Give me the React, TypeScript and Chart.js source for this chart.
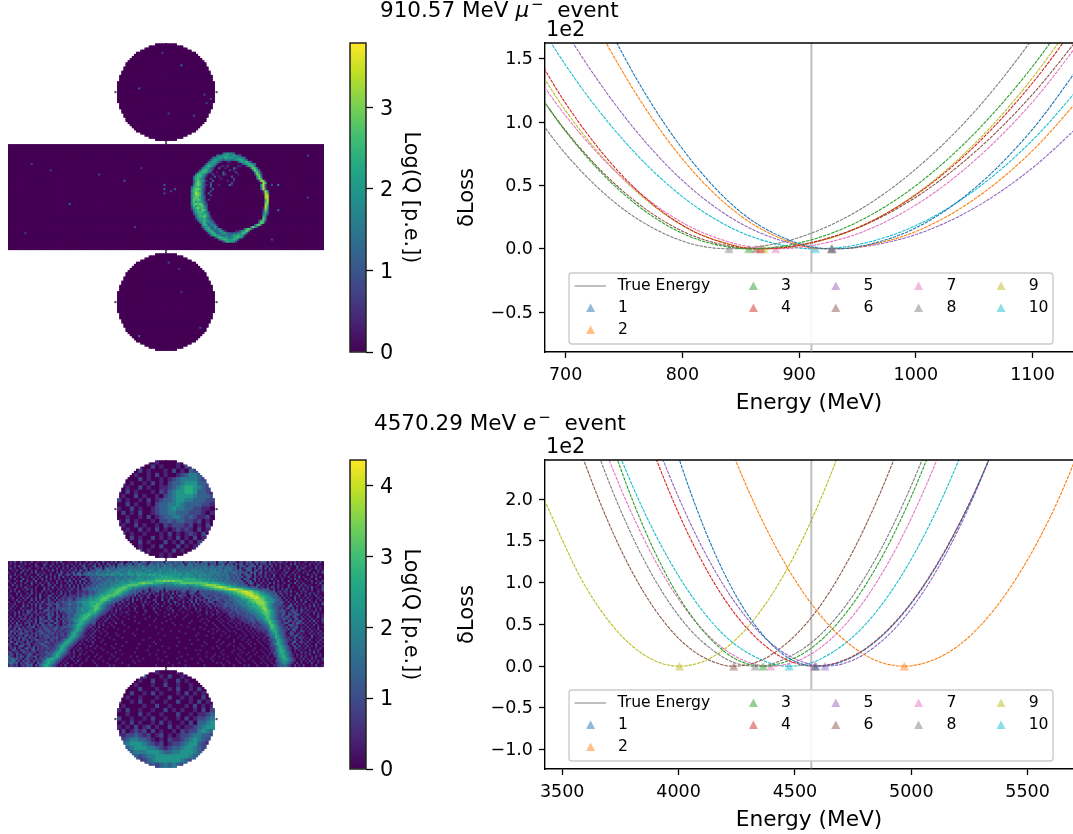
import React, { useEffect, useRef } from "react";
import { Chart, registerables } from "chart.js";

Chart.register(...registerables);

const FONT = "'DejaVu Sans'";
const seriesNames = ["1", "2", "3", "4", "5", "6", "7", "8", "9", "10"];
const seriesRgb = ["31,119,180", "255,127,14", "44,160,44", "214,39,40", "148,103,189", "140,86,75", "227,119,194", "127,127,127", "188,189,34", "23,190,207"];

// ---- muon event: loss curves (units of 1e2) ----
const muonTrueEnergy = 910.57;
const muonGrid = [650, 700, 750, 800, 850, 900, 950, 1000, 1050, 1100, 1150];
const muonBest = [928, 928, 857, 867, 928, 863, 880, 840, 870, 914];
const muonLoss1 = [3.72, 2.5, 1.52, 0.79, 0.29, 0.04, 0.015, 0.165, 0.475, 0.944, 1.57];
const muonLoss2 = [3.36, 2.26, 1.38, 0.71, 0.26, 0.03, 0.013, 0.136, 0.39, 0.775, 1.29];
const muonLoss3 = [1.61, 0.927, 0.43, 0.122, 0.002, 0.045, 0.211, 0.499, 0.909, 1.44, 2.09];
const muonLoss4 = [1.94, 1.149, 0.564, 0.185, 0.012, 0.026, 0.166, 0.426, 0.807, 1.31, 1.93];
const muonLoss5 = [2.55, 1.72, 1.05, 0.54, 0.2, 0.026, 0.01, 0.112, 0.321, 0.639, 1.06];
const muonLoss6 = [1.59, 0.933, 0.448, 0.139, 0.006, 0.03, 0.164, 0.407, 0.759, 1.22, 1.79];
const muonLoss7 = [1.71, 1.05, 0.548, 0.207, 0.029, 0.01, 0.118, 0.346, 0.694, 1.16, 1.75];
const muonLoss8 = [1.38, 0.749, 0.309, 0.061, 0.002, 0.089, 0.298, 0.63, 1.08, 1.66, 2.36];
const muonLoss9 = [1.83, 1.09, 0.544, 0.185, 0.015, 0.023, 0.163, 0.431, 0.826, 1.35, 2.0];
const muonLoss10 = [2.21, 1.45, 0.853, 0.412, 0.13, 0.006, 0.032, 0.183, 0.459, 0.858, 1.38];
const muonXTicks = [700, 800, 900, 1000, 1100];
const muonYTicks = [-0.5, 0, 0.5, 1, 1.5];

// ---- electron event: loss curves (units of 1e2) ----
const elecTrueEnergy = 4570.29;
const elecGrid = [3400, 3600, 3800, 4000, 4200, 4400, 4600, 4800, 5000, 5200, 5400, 5600, 5800];
const elecBest = [4590, 4970, 4363, 4585, 4629, 4237, 4396, 4329, 4004, 4475];
const elecLoss1 = [10.17, 7.04, 4.48, 2.5, 1.09, 0.259, 0.0, 0.197, 0.751, 1.66, 2.93, 4.56, 6.54];
const elecLoss2 = [11.5, 8.78, 6.41, 4.4, 2.78, 1.52, 0.641, 0.135, 0.004, 0.24, 0.839, 1.8, 3.13];
const elecLoss3 = [5.86, 3.68, 2.0, 0.833, 0.168, 0.007, 0.281, 0.955, 2.03, 3.5, 5.38, 7.7, 10.3];
const elecLoss4 = [7.5, 5.18, 3.29, 1.83, 0.791, 0.183, 0.001, 0.204, 0.76, 1.67, 2.93, 4.54, 6.51];
const elecLoss5 = [7.7, 5.4, 3.5, 2.02, 0.939, 0.267, 0.004, 0.146, 0.685, 1.62, 2.96, 4.7, 6.83];
const elecLoss6 = [4.15, 2.41, 1.13, 0.333, 0.008, 0.139, 0.689, 1.66, 3.04, 4.85, 7.07, 9.71, 12.8];
const elecLoss7 = [5.07, 3.24, 1.82, 0.801, 0.196, 0.0, 0.201, 0.79, 1.77, 3.13, 4.88, 7.02, 9.54];
const elecLoss8 = [4.82, 2.97, 1.56, 0.604, 0.093, 0.024, 0.352, 1.06, 2.16, 3.63, 5.49, 7.74, 10.4];
const elecLoss9 = [2.13, 0.953, 0.243, 0.0, 0.209, 0.852, 1.93, 3.44, 5.39, 7.77, 10.6, 13.8, 17.5];
const elecLoss10 = [5.51, 3.65, 2.17, 1.08, 0.361, 0.027, 0.072, 0.49, 1.28, 2.44, 3.97, 5.87, 8.15];
const elecXTicks = [3500, 4000, 4500, 5000, 5500];
const elecYTicks = [-1, -0.5, 0, 0.5, 1, 1.5, 2];

// ---- colour bars ----
const viridis = ["#440154", "#482475", "#414487", "#355f8d", "#2a788e", "#21918c", "#22a884", "#44bf70", "#7ad151", "#bddf26", "#fde725"];
const muonBarMax = 3.79;
const elecBarMax = 4.357;
const muonBarTicks = [0, 1, 2, 3];
const elecBarTicks = [0, 1, 2, 3, 4];

// ---- detector maps ----
const circleHalfWidths = [5, 8, 10, 12, 14, 15, 16, 17, 18, 19, 19, 20, 20, 21, 21, 22, 22, 22, 23, 23, 23, 23, 23];
const muonLevel = 0.42;
const elecLevel = 0.45;

// charge levels around the muon ring: rows start at barrel row 3, columns at barrel column 86
const muonRing = [
  "0000000000 0000000000 0000000000 000000000",
  "0000000000 0000003454 4300000000 000000000",
  "0000000000 0003445554 4543300000 000000000",
  "0000000000 0344554655 5445443000 000000000",
  "0000000000 3455443444 3455654300 000000000",
  "0000000003 4554310011 0002455643 000000000",
  "0000000035 5542000000 0000024565 430000000",
  "0000000356 5420011020 0001100256 630000000",
  "0000003555 3200300100 0310000003 764000000",
  "0000035664 3100000002 0100000000 475300000",
  "0000356653 2001003000 0020000000 057410000",
  "0004665420 0200003100 0001000000 027620000",
  "0035665310 0030100000 3000000000 005730000",
  "0046654200 2000010000 0200000000 003760000",
  "0035755310 0300000010 0100000000 000287100",
  "0036764200 2000000000 2000000000 000018600",
  "0046764210 3000100003 1000000000 000058200",
  "0356654200 2000000000 0000000000 000048200",
  "0467763200 0300000000 0000000000 000038300",
  "0567654100 2000000000 0000000000 000002850",
  "0468764103 0000000000 0000000000 000001860",
  "0567763200 2000000000 0000000000 000000880",
  "0467654300 0000000000 0000000000 000000880",
  "0476764202 0000000000 0000000000 000000680",
  "0565655310 0000000000 0000000000 000000680",
  "0467676320 0000000000 0000000000 000000770",
  "0365667430 0000000000 0000000000 000000860",
  "0256766530 0000000000 0000000000 000001850",
  "0145657640 0000000000 0000000000 000002740",
  "0035666542 0000000000 0000000000 000003630",
  "0024565653 0000000000 0000000000 000004520",
  "0003566754 1000000000 0000000000 000006400",
  "0002455643 2000000000 0000000000 000007400",
  "0000355654 3200000000 0000000000 000266200",
  "0000035644 4310000000 0000000000 000476000",
  "0000004653 4431000000 0000000000 036720000",
  "0000002455 3353000000 0000000003 753000000",
  "0000000356 4343520000 0000003675 100000000",
  "0000000035 6533453100 0011355740 000000000",
  "0000000003 5653345533 2334466300 000000000",
  "0000000000 3565533343 4556552000 000000000",
  "0000000000 0025665543 4566540000 000000000",
  "0000000000 0000356655 5653000000 000000000",
  "0000000000 0000002465 5420000000 000000000",
].map((s) => s.replace(/ /g, ""));
// isolated muon hits: [column, row, charge]
const muonBarrelHits = [[11, 9, 0.7], [20, 12, 0.7], [43, 14, 0.7], [55, 17, 1.0], [29, 28, 1.2], [74, 19, 1.0], [74, 23, 0.8], [74, 21, 1.2], [79, 21, 1.0], [77, 22, 0.8], [128, 19, 1.4], [125, 19, 0.8], [128, 31, 1.4], [142, 25, 0.7], [125, 45, 0.8], [142, 5, 0.7], [63, 11, 0.6], [8, 42, 0.7], [60, 39, 0.7]];
const muonTopHits = [[21, 4, 0.7], [30, 10, 1.2], [10, 21, 1.2], [41, 24, 0.7], [44, 26, 0.8], [36, 34, 0.8], [24, 33, 0.6], [42, 28, 0.7]];
const muonBottomHits = [[24, 4, 0.8], [29, 7, 0.6], [10, 39, 1.2], [39, 35, 0.8], [30, 18, 0.6]];

// electron barrel charge levels, one character per detector cell
const elecBarrel = [
  "0102003010 0200101020 0102030001 0020100201 1020030102 0301200203 2302321032 2323043223 3240323231 3024323230 3423032310 2203230231 2320302012 1020102010 0200102030",
  "0201001020 1002000310 0201002010 2010302012 0203010320 2023403240 3243230342 3424323423 3243034324 2332403230 3240323031 3203123030 2120310201 0100203010 1002010200",
  "1002030100 0102100200 3010201030 0201023010 2301203032 3042332434 2343423434 3423443432 3434243423 4334323423 3432423320 3230232302 3012030102 0020100301 0201002010",
  "0301002010 2000103020 0102002010 3020103203 0232303423 3243434343 4343544344 3443534434 3443434344 3434434343 4324343230 3023320203 2030201002 0103000201 2000103010",
  "0010200302 0102001002 0301020102 0120320302 3234323443 3434443544 4444344544 3454444545 4344443544 4443434443 3434343232 3202330230 2010302010 0201001030 0102000201",
  "2001003010 0203010200 1002031020 2303203243 2343343434 4454344554 4545454444 5454454545 4544454445 4444344444 4334323432 3232032302 3021020100 1030020100 2010020103",
  "0102010020 1000302010 2010320132 0323423343 4344444545 5445544555 4565555656 5565555555 5554555544 4545444434 4343423232 3023220302 1020103001 0200102010 0030102000",
  "0300102001 0201020030 1020203010 2010200213 2323243233 3434344344 4454545455 5556565655 5545555454 4544444343 4333432323 2302320210 2030102001 0102001030 1000201020",
  "0102000301 0020103010 2010200102 0201023012 3234323343 3443444454 4555545555 6666666666 6656666665 5555454444 3433432323 2032201302 0102030100 2000102010 0201003000",
  "2000103002 0103001020 1002010203 1020301202 3232333434 3444544555 5556566666 7777878787 7776666666 6655554544 4434333232 3202230201 0201001020 1003000201 0010200102",
  "0102001020 0301020103 0102010020 2010203021 2323334344 4445555566 6677877776 6666555556 6677777777 7777766666 5554443433 2320232010 2010302010 0200103010 2000102030",
  "0030102001 0200103002 1020020103 0102030212 3233434344 4555566777 7766655454 5444344445 4555545556 6677888887 7665554443 3323021023 0102001020 1003000102 0201000102",
  "2000201030 1002000201 0301020102 0302021232 3343344445 5566777665 5544343232 3343243333 4343443344 4455667788 9988776655 4443323230 2102031020 1002010030 1020301002",
  "0102000103 0201000302 0100201020 3012023233 3434444556 6677776553 4333232023 2323032323 2323332334 3334445566 6778899998 8766554433 2323102010 2030100010 3010200103",
  "0201030010 0201002010 2001020103 0102112123 2334445566 6777655433 3232023021 2302031020 2123202232 0322323233 4445566778 8999887665 4432323012 0210301002 0200100201",
  "1000201002 0301020010 0201030201 1012122123 2344555666 7776544332 3202120302 0102102030 2012102320 1232232223 2334455667 7889998776 5544332302 1020100301 0103020100",
  "0200102010 2001030102 3010201202 1212123234 3445666777 7655433221 2030102100 2103010201 0321200212 0123212232 2232344456 6778899887 6655433320 2010201020 0201003010",
  "1020010203 0102030012 0203012122 2123234345 4556677765 5433321202 0103002100 1002010320 1021010201 2102323123 2322233444 5667788998 7765543322 0201003010 1020100201",
  "0010201020 0302010203 1020212123 2123344455 5566777654 3332202103 0201010002 1003002010 0201002103 0212031223 2123233344 4555677888 8765554332 1020102003 0102001020",
  "2001030100 2010203102 1202123223 2334455556 6666765443 3220210102 0001020100 2000102003 1002010302 0102123201 2212322334 4445667788 8876554323 2102010201 0300102001",
  "0102000201 0203021022 2123212234 3234345556 6677654332 2012010200 1000201001 0200100201 0201001020 3010210212 1223232333 4445556678 8876543232 2010302010 2001020103",
  "1020100302 0102030102 2103212223 2324345556 6776543221 2010102001 0100200010 1002001000 1003001020 0101021021 2123223233 3444556667 7876543322 1202310201 0102030100",
  "0201002010 0201032013 0213223234 2334454555 6776543221 0102010100 2000100002 0100010200 0010201002 0100102010 1122123232 3334455566 7886543321 2023020102 0201001020",
  "2010010203 1202010232 1212132323 3234455456 6765432211 0201000100 1000020001 0010001020 0100010001 0200100102 0111212232 2333444556 6787654322 3210231203 1020102010",
  "0102030102 3012021203 1203021233 3234445566 6654322101 0100102000 0100010000 2000100010 0001000100 1000201001 1011122123 2223344455 6777654322 2302123102 0201030100",
  "1002010212 0201201023 1302102123 2344556676 5543221010 2001000100 0000100000 0100002000 1000010000 0100100201 0100121212 2223233445 5677654321 3203212320 1020010201",
  "0201021020 1201021203 2102203123 2344566765 4432101020 0100010000 1000000100 0000100001 0000100000 1000001000 1001012112 1223232344 5567654322 2132023102 0102000301",
  "1020102120 2012032103 2013021223 3445667654 3321010201 0010000100 0000010000 1000000100 0001000000 0010100001 0100101101 1212233234 4567654321 2321202301 2010201002",
  "0201020102 1203021231 2302103123 3455665543 3210102000 1000100000 1000000001 0000010000 0000000100 0100010000 1010011010 1121223223 3456765432 1203212132 0102030102",
  "1020301021 2012032102 1032102213 2345665432 3201010010 0200100000 0010000000 0001000010 0000001000 0001000100 0100100101 1011212212 3345765432 1231021321 2010102001",
  "0201212010 3021203212 3202102133 3456654321 2101020001 0000010000 0000000100 0000000001 0010000000 0000100010 0010010010 1010112121 2334676532 2102321201 0201020100",
  "1202120203 1230121321 2123122323 3456543212 0102000100 1000000100 0000000000 1000000000 0000010000 0100000001 0001001010 0101011212 2233576543 2130212301 1020100201",
  "2012032120 2102121232 1232122122 3456542110 2010010000 0010000000 0100000000 0001000000 0000000010 0001000100 1000100001 1001010112 1223566543 2213032102 0102010200",
  "0321212032 1201232123 2121221223 4565432101 0201001000 0000010000 0000100000 0000000100 0100000000 0000010001 0010010100 0100101011 1212456643 3210212012 2010201020",
  "1203023212 0212123212 2312122123 5654321010 2000100100 0100000001 0000000000 0100000000 0000100000 1000000100 0001000010 0010010101 0112345643 3201320120 1002010201",
  "2120212032 1203121232 1212122134 5654321102 0100001000 0010000000 1000000000 0000100000 0000000001 0000100000 0100010000 1001001010 1012344654 3210212302 0100301020",
  "0212031220 3121021223 1223112235 6543211010 2001000010 0000100000 0000000100 0000000000 1000000000 0000000100 0000100001 0010001001 0110234654 3212012031 2010200102",
  "1202120312 0213212120 3212123456 5432110201 0100010000 1000000000 0000100000 0010000000 0000001000 1000000000 1000000100 0100100010 0101223465 4321202102 0102001020",
  "0320212103 1201221232 1212224565 4321010010 2000100000 0000001000 0000000001 0000000000 0100000000 0001000001 0010000100 0001010001 0010123465 4321023012 1020100201",
  "2102301212 2012123212 1122345654 3210201000 1000001000 0100000000 0010000000 1000000000 0000000100 0000100000 0100010000 1000100100 1001123565 4320120201 0201002010",
  "1201023201 3021212231 2123456543 2101000102 0010000001 0000100000 0000000100 0001000000 1000000000 0010000001 0000100100 0100010000 0100122356 5432012030 1020102001",
  "0213021023 1230212123 1223465432 1010200100 0100100000 1000000000 0100000000 0000001000 0000100000 0000000100 1000000001 0010000100 0010112356 5432102201 0201001020",
  "1032103212 0231212121 2234565421 0102010001 0000010000 0001000000 0000001000 0100000000 0000000001 0100000000 0010000100 1000001000 1001021356 6532101020 1002010200",
  "2301210321 2121021232 2345654321 0200100100 1000000100 0100000000 1000000000 0000100000 0100000000 0000100000 0100001000 0100100010 0100112346 6543201002 0201030100",
  "1220312012 3201212123 3456543211 0100201000 0010000001 0000100000 0000000100 1000000000 0000010000 1000000010 0010000001 0001000100 0010102245 6543210201 0102001020",
  "3210213203 2123021232 3456532101 0201000010 0100100000 1000000010 0100000000 0000010000 0010000000 0000100100 1000100000 1000010001 0101001245 6643210102 0200102010",
  "2342312023 1202123245 6654321010 2000100100 0001000010 0010000000 0000100000 0100000000 1000000100 0100001000 0010000010 0100100000 1001010134 5654321010 2010201002",
  "3243120312 2031212456 5543210100 0102000100 1000010000 0100000001 0010000000 0001000000 0000100000 0010000100 0000100001 0010001000 0100100234 5554321002 0102010201",
  "2432302123 1210323456 5432101020 0010010000 0100000100 0000100000 1000000000 0000001000 0100000000 1000000001 0100010000 1000000100 1010010123 4543210201 0010200100",
  "1321201213 2302134565 4321010200 1000100000 0010000010 1000000100 0000000000 1000000010 0000100000 0001000000 0010000100 0010100010 0001001123 3432102010 2000102001",
].map((s) => s.replace(/ /g, ""));
// electron circle charge levels (each character covers 2x2 detector cells)
const elecTopCircle = [
  "00000001010000100000000",
  "00010100201000102100000",
  "00100201000102010321000",
  "00201001020100123443200",
  "01000201001012344443210",
  "02010010201023345553320",
  "00100201001123456654321",
  "10201000102134556653321",
  "01002010010234555543332",
  "20100102012334554433322",
  "00201001023344543333221",
  "10020100123345443322110",
  "02010200123344333222101",
  "00100102012334432321120",
  "10201000102232332212010",
  "01002010010212221201020",
  "00100201020101212102010",
  "02010010001020101210200",
  "00020100201010201020100",
  "00100201000201020102000",
  "00010100102000201010000",
  "00000201000102010000000",
  "00000010001010000000000",
];
const elecBottomCircle = [
  "00000100010000100000000",
  "00010020001020010000000",
  "00100100200100201000000",
  "00201000100200100100000",
  "01000200010010200102000",
  "10020010201000102010100",
  "00100100010020010100200",
  "20010200100100200102010",
  "01000010020010001020101",
  "10200100100201010010202",
  "00100201001000200101123",
  "20010010200100102012234",
  "01020100102010010203345",
  "10102012010020101123455",
  "02012120201001021224543",
  "11223212012010122344332",
  "12344332101021123454321",
  "23455543212012234553210",
  "12345554432123345543210",
  "01234445554334455543200",
  "00123234455555555432100",
  "00012123455555543210000",
  "00001012323434321000000",
];
const detectorStubs = [[75, 46.5], [75, 47.5], [75, 98.5], [75, 99.5], [51, 23], [99, 23], [51, 123], [99, 123], [75, -0.1], [75, 146.1]];

// ---- helpers ----
const viridisAt = (t: number) => {
  const p = Math.max(0, Math.min(1, t)) * (viridis.length - 1);
  const i = Math.min(viridis.length - 2, Math.floor(p));
  const f = p - i;
  const rgb = (h: string) => [1, 3, 5].map((k) => parseInt(h.slice(k, k + 2), 16));
  const a = rgb(viridis[i]);
  const b = rgb(viridis[i + 1]);
  return `rgb(${a.map((v, k) => Math.round(v + (b[k] - v) * f)).join(",")})`;
};

const half = (r: number) => circleHalfWidths[r < 23 ? r : 45 - r];

function detectorPoints(top: (c: number, r: number) => number, barrel: (c: number, r: number) => number, bottom: (c: number, r: number) => number) {
  const pts: { x: number; y: number; v: number }[] = [];
  for (let r = 0; r < 46; r++) {
    const h = half(r);
    for (let c = 23 - h; c < 23 + h; c++) {
      pts.push({ x: 52 + c + 0.5, y: r + 0.5, v: top(c, r) });
      pts.push({ x: 52 + c + 0.5, y: 100 + r + 0.5, v: bottom(c, r) });
    }
  }
  for (let r = 0; r < 50; r++) for (let c = 0; c < 150; c++) pts.push({ x: c + 0.5, y: 48 + r + 0.5, v: barrel(c, r) });
  return pts;
}

const hitLookup = (hits: number[][]) => {
  const m = new Map<string, number>();
  hits.forEach(([c, r, v]) => m.set(`${c},${r}`, v));
  return (c: number, r: number) => m.get(`${c},${r}`) || 0;
};

const muonPoints = () => {
  const barrelHit = hitLookup(muonBarrelHits);
  return detectorPoints(hitLookup(muonTopHits), (c, r) => {
    const ch = muonRing[r - 3]?.[c - 86];
    return ch ? Number(ch) * muonLevel || barrelHit(c, r) : barrelHit(c, r);
  }, hitLookup(muonBottomHits));
};

const coarse = (rows: string[]) => (c: number, r: number) => Number(rows[r >> 1]?.[c >> 1] || 0) * elecLevel;
const fine = (rows: string[]) => (c: number, r: number) => Number(rows[r]?.[c] || 0) * elecLevel;
const elecPoints = () => detectorPoints(coarse(elecTopCircle), fine(elecBarrel), coarse(elecBottomCircle));

function curve(grid: number[], loss: number[], best: number) {
  return [...grid.map((x, i) => ({ x, y: loss[i] })), { x: best, y: 0 }].sort((a, b) => a.x - b.x);
}

const triangleImage = (rgb: string) => {
  const c = document.createElement("canvas");
  c.width = 11;
  c.height = 11;
  const g = c.getContext("2d")!;
  g.fillStyle = `rgba(${rgb},0.5)`;
  g.beginPath();
  g.moveTo(5.5, 1.2);
  g.lineTo(10, 9.8);
  g.lineTo(1, 9.8);
  g.closePath();
  g.fill();
  return c;
};

// matplotlib sets vertical-axis labels a little lower than Chart.js does
const nudgeYLabels = (dy: number) => ({
  id: "nudgeYLabels",
  beforeDraw(chart: any) {
    chart.scales.y.getLabelItems(chart.chartArea).forEach((item: any) => { item.options.translation[1] += dy; });
  },
});

interface PanelProps {
  grid: number[]; losses: number[][]; best: number[]; trueEnergy: number;
  xMin: number; xMax: number; yMin: number; yMax: number;
  xTicks: number[]; yTicks: number[]; top: number; height: number; areaTop: number; xHeight: number; titlePad: number;
}

const LossPanel = (p: PanelProps) => {
  const ref = useRef<HTMLCanvasElement>(null);
  useEffect(() => {
    const tick = { size: 17.5, family: FONT };
    const spinePlugin = {
      id: "spineAndLegend",
      afterDraw(chart: any) {
        const { ctx, chartArea: a } = chart;
        ctx.save();
        ctx.strokeStyle = "#000";
        ctx.lineWidth = 1.4;
        ctx.beginPath();
        ctx.moveTo(a.left, a.top);
        ctx.lineTo(a.right, a.top);
        ctx.stroke();
        // legend box, columns filled top to bottom
        const left = 569 - 450;
        const right = 1053 - 450;
        const t = a.bottom - 79;
        const h = 71;
        ctx.fillStyle = "rgba(255,255,255,0.9)";
        ctx.strokeStyle = "#cccccc";
        ctx.lineWidth = 1.4;
        ctx.beginPath();
        ctx.roundRect(left, t, right - left, h, 3);
        ctx.fill();
        ctx.stroke();
        const rows = [t + 13, t + 35, t + 57];
        ctx.font = `15.6px ${FONT}`;
        ctx.textBaseline = "middle";
        ctx.fillStyle = "#000";
        ctx.fillText("True Energy", 617.5 - 450, rows[0]);
        ctx.strokeStyle = "rgba(127,127,127,0.5)";
        ctx.lineWidth = 2;
        ctx.beginPath();
        ctx.moveTo(574.5 - 450, rows[0]);
        ctx.lineTo(606 - 450, rows[0]);
        ctx.stroke();
        const cols: [number, number, number, number][] = [
          [590.6, 618, 0, 2], [753.4, 781, 2, 4], [835.8, 863.5, 4, 6], [918.6, 946.6, 6, 8], [1001, 1028.7, 8, 10],
        ];
        cols.forEach(([mx, tx, from, to], ci) => {
          for (let i = from; i < to; i++) {
            const y = rows[i - from + (ci === 0 ? 1 : 0)];
            ctx.fillStyle = `rgba(${seriesRgb[i]},0.5)`;
            ctx.beginPath();
            ctx.moveTo(mx - 450, y - 4.5);
            ctx.lineTo(mx - 450 + 4.5, y + 4.1);
            ctx.lineTo(mx - 450 - 4.5, y + 4.1);
            ctx.closePath();
            ctx.fill();
            ctx.fillStyle = "#000";
            ctx.fillText(seriesNames[i], tx - 450, y);
          }
        });
        ctx.restore();
      },
    };
    const chart = new Chart(ref.current!, {
      type: "scatter",
      data: {
        datasets: [
          { label: "True Energy", data: [{ x: p.trueEnergy, y: p.yMin }, { x: p.trueEnergy, y: p.yMax }], showLine: true, borderColor: "rgba(127,127,127,0.5)", borderWidth: 2, pointRadius: 0 },
          ...p.losses.map((loss, i) => ({
            label: `curve ${seriesNames[i]}`,
            data: curve(p.grid, loss, p.best[i]),
            showLine: true, borderColor: `rgb(${seriesRgb[i]})`, borderWidth: 1.1, borderDash: [3.4, 1], pointRadius: 0, cubicInterpolationMode: "monotone" as const,
          })),
          ...p.best.map((b, i) => ({
            label: seriesNames[i],
            data: [{ x: b, y: 0 }],
            pointStyle: triangleImage(seriesRgb[i]), pointRadius: 5.5, pointBorderWidth: 0, borderWidth: 0,
          })),
        ],
      } as any,
      options: {
        animation: false, responsive: false, maintainAspectRatio: false,
        layout: { autoPadding: false, padding: { top: p.areaTop, left: 0, right: 0, bottom: 0 } },
        plugins: { legend: { display: false }, tooltip: { enabled: false } },
        scales: {
          x: {
            type: "linear", bounds: "data", min: p.xMin, max: p.xMax,
            afterFit: (s: any) => { s.height = p.xHeight; },
            afterBuildTicks: (s: any) => { s.ticks = p.xTicks.map((value) => ({ value })); s.min = p.xMin; s.max = p.xMax; },
            border: { color: "#000", width: 1.4 },
            grid: { drawOnChartArea: false, drawTicks: true, tickLength: 6, tickColor: "#000", tickWidth: 1.3 },
            ticks: { color: "#000", font: tick, padding: 7, maxRotation: 0, autoSkip: false, callback: (v: any) => String(v) },
            title: { display: true, text: "Energy (MeV)", color: "#000", font: { size: 21.7, family: FONT }, padding: { top: 0, bottom: p.titlePad } },
          },
          y: {
            type: "linear", bounds: "data", min: p.yMin, max: p.yMax,
            afterFit: (s: any) => { s.width = 95; },
            afterBuildTicks: (s: any) => { s.ticks = p.yTicks.map((value) => ({ value })); s.min = p.yMin; s.max = p.yMax; },
            border: { color: "#000", width: 1.4 },
            grid: { drawOnChartArea: false, drawTicks: true, tickLength: 6, tickColor: "#000", tickWidth: 1.3 },
            ticks: { color: "#000", font: tick, padding: 6, autoSkip: false, callback: (v: any) => Number(v).toFixed(1).replace("-", "\u2212") },
            title: { display: true, text: "\u03b4Loss", color: "#000", font: { size: 21, family: FONT }, padding: { top: 5, bottom: 0 } },
          },
        },
      } as any,
      plugins: [spinePlugin, nudgeYLabels(1)],
    });
    return () => chart.destroy();
  }, []);
  return <canvas ref={ref} width={623} height={p.height} style={{ position: "absolute", left: 450, top: p.top, width: 623, height: p.height }} />;
};

const DetectorMap = ({ points, vmax, top }: { points: { x: number; y: number; v: number }[]; vmax: number; top: number }) => {
  const ref = useRef<HTMLCanvasElement>(null);
  useEffect(() => {
    const chart = new Chart(ref.current!, {
      type: "scatter",
      data: {
        datasets: [
          { label: "charge", data: points, pointStyle: "rect", pointRadius: 2.2, pointBorderWidth: 0, borderWidth: 0, clip: false, pointBackgroundColor: points.map((q) => viridisAt(q.v / vmax)) },
          { label: "ticks", data: detectorStubs.map(([x, y]) => ({ x, y })), pointStyle: "rect", pointRadius: 1.5, pointBorderWidth: 0, borderWidth: 0, clip: false, pointBackgroundColor: "#5b4a66" },
        ],
      } as any,
      options: {
        animation: false, responsive: false, maintainAspectRatio: false,
        layout: { autoPadding: false, padding: 0 },
        plugins: { legend: { display: false }, tooltip: { enabled: false } },
        events: [],
        scales: {
          x: { type: "linear", display: false, min: 0, max: 150 },
          y: { type: "linear", display: false, min: -0.4, max: 146.3, reverse: true },
        },
      } as any,
    });
    return () => chart.destroy();
  }, []);
  return <canvas ref={ref} width={316} height={308} style={{ position: "absolute", left: 8, top, width: 316, height: 308, filter: "blur(0.6px)" }} />;
};

const ColorBar = ({ vmax, ticks, top }: { vmax: number; ticks: number[]; top: number }) => {
  const ref = useRef<HTMLCanvasElement>(null);
  useEffect(() => {
    const frame = {
      id: "barFrame",
      afterDraw(chart: any) {
        const { ctx, chartArea: a } = chart;
        ctx.save();
        ctx.strokeStyle = "#222";
        ctx.lineWidth = 1.5;
        ctx.strokeRect(a.left, a.top, a.right - a.left, a.bottom - a.top);
        ctx.restore();
      },
    };
    const chart = new Chart(ref.current!, {
      type: "bar",
      data: {
        labels: [""],
        datasets: [{
          label: "Log(Q [p.e.])",
          data: [[0, vmax]],
          barPercentage: 1, categoryPercentage: 1, borderWidth: 0,
          backgroundColor: (c: any) => {
            const a = c.chart.chartArea;
            if (!a) return viridis[0];
            const g = c.chart.ctx.createLinearGradient(0, a.bottom, 0, a.top);
            viridis.forEach((col, i) => g.addColorStop(i / (viridis.length - 1), col));
            return g;
          },
        }],
      } as any,
      options: {
        animation: false, responsive: false, maintainAspectRatio: false,
        layout: { autoPadding: false, padding: { left: 1, right: 0, top: 21, bottom: 21 } },
        plugins: { legend: { display: false }, tooltip: { enabled: false } },
        scales: {
          x: { display: false },
          y: {
            position: "right", bounds: "data", min: 0, max: vmax,
            afterFit: (s: any) => { s.width = 74; },
            afterBuildTicks: (s: any) => { s.ticks = ticks.map((value) => ({ value })); s.min = 0; s.max = vmax; },
            border: { display: false },
            grid: { drawOnChartArea: false, drawTicks: true, tickLength: 7, tickColor: "#000", tickWidth: 1.3 },
            ticks: { color: "#000", font: { size: 20.8, family: FONT }, padding: 7, autoSkip: false, callback: (v: any) => String(v) },
            title: { display: true, text: "Log(Q [p.e.])", color: "#000", font: { size: 20.8, family: FONT }, padding: { top: 17, bottom: 0 } },
          },
        },
      } as any,
      plugins: [frame, nudgeYLabels(2)],
    });
    return () => chart.destroy();
  }, []);
  return <canvas ref={ref} width={91} height={351} style={{ position: "absolute", left: 349, top, width: 91, height: 351 }} />;
};

const textStyle = (left: number, top: number, size = 21.5): React.CSSProperties => ({ position: "absolute", left, top, font: `${size}px ${FONT}`, color: "#000", whiteSpace: "pre", lineHeight: "24px" });
const Sup = () => <span style={{ position: "relative", top: -8, fontSize: 15, marginLeft: 2 }}>{"\u2212"}</span>;

export default function App() {
  const muonLosses = [muonLoss1, muonLoss2, muonLoss3, muonLoss4, muonLoss5, muonLoss6, muonLoss7, muonLoss8, muonLoss9, muonLoss10];
  const elecLosses = [elecLoss1, elecLoss2, elecLoss3, elecLoss4, elecLoss5, elecLoss6, elecLoss7, elecLoss8, elecLoss9, elecLoss10];
  return (
    <div style={{ position: "fixed", left: 0, top: 0, width: 1073, height: 834, overflow: "hidden", background: "#fff" }}>
      <DetectorMap points={muonPoints()} vmax={muonBarMax} top={43} />
      <DetectorMap points={elecPoints()} vmax={elecBarMax} top={460} />
      <ColorBar vmax={muonBarMax} ticks={muonBarTicks} top={21.7} />
      <ColorBar vmax={elecBarMax} ticks={elecBarTicks} top={439} />
      <LossPanel grid={muonGrid} losses={muonLosses} best={muonBest} trueEnergy={muonTrueEnergy} xMin={682.3} xMax={1134.7} yMin={-0.816} yMax={1.626} xTicks={muonXTicks} yTicks={muonYTicks} top={0} height={417} areaTop={43} xHeight={65} titlePad={1} />
      <LossPanel grid={elecGrid} losses={elecLosses} best={elecBest} trueEnergy={elecTrueEnergy} xMin={3426} xMax={5695} yMin={-1.231} yMax={2.467} xTicks={elecXTicks} yTicks={elecYTicks} top={415} height={419} areaTop={45} xHeight={65} titlePad={1} />
      <div style={textStyle(380, -2)}>910.57 MeV <i>{"\u03bc"}</i><Sup />  event</div>
      <div style={textStyle(374, 411)}>4570.29 MeV <i>e</i><Sup />  event</div>
      <div style={textStyle(546, 17, 20.8)}>1e2</div>
      <div style={textStyle(546, 434, 20.8)}>1e2</div>
    </div>
  );
}
